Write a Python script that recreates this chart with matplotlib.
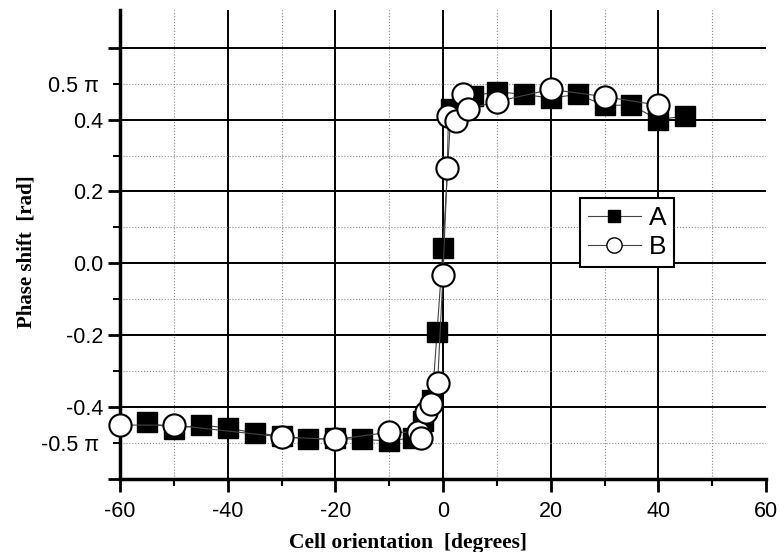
import numpy as np
import matplotlib.pyplot as plt
from matplotlib.lines import Line2D
from matplotlib.ticker import MultipleLocator, FixedLocator, FixedFormatter

# series A (filled squares)
a_x = [-55, -50, -45, -40, -35, -30, -25, -20, -15, -10, -5.5, -3.7, -2, -1.1, 0, 1.5, 5.5, 10, 15, 20, 25, 30, 35, 40, 45]
a_y = [-0.442, -0.46, -0.45, -0.458, -0.472, -0.48, -0.49, -0.487, -0.49, -0.494, -0.485, -0.44, -0.38, -0.19,
       0.042, 0.43, 0.465, 0.478, 0.47, 0.46, 0.47, 0.44, 0.44, 0.40, 0.41]

# series B (open circles)
b_x = [-60, -50, -30, -20, -10, -4.6, -4.1, -3.2, -2.2, -1, 0, 0.8, 1, 2.5, 3.7, 4.6, 10, 20, 30, 40]
b_y = [-0.45, -0.45, -0.483, -0.49, -0.47, -0.47, -0.485, -0.414, -0.392, -0.333, -0.031, 0.264, 0.41,
       0.395, 0.472, 0.43, 0.45, 0.484, 0.464, 0.44]

xticks = [-60, -40, -20, 0, 20, 40, 60]
yticks = [-0.6, -0.4, -0.2, 0.0, 0.2, 0.4, 0.6]
ylabels = ['', '-0.4', '-0.2', '0.0', '0.2', '0.4', '']

plt.rcParams['font.family'] = ['Liberation Sans', 'DejaVu Sans']
plt.rcParams['axes.unicode_minus'] = False

fig = plt.figure(figsize=(7.81, 5.52), dpi=100)
ax = fig.add_axes([120/781, 1-479/552, 646/781, 469/552])

ax.plot(a_x, a_y, color='#444444', lw=0.8, marker='s', ms=15, mfc='black', mec='black', zorder=3, clip_on=False)
ax.plot(b_x, b_y, color='#444444', lw=0.8, marker='o', ms=16, mfc='white', mec='black', mew=1.5, zorder=4,
        clip_on=False)

ax.set_xlim(-60, 60)
ax.set_ylim(-0.6, 0.705)

ax.xaxis.set_major_locator(FixedLocator(xticks))
ax.xaxis.set_minor_locator(MultipleLocator(10))
ax.yaxis.set_major_locator(FixedLocator(yticks))
ax.yaxis.set_major_formatter(FixedFormatter(ylabels))
ax.yaxis.set_minor_locator(FixedLocator([-0.5, -0.3, -0.1, 0.1, 0.3, 0.5]))
ax.yaxis.set_minor_formatter(FixedFormatter(['-0.5 π', '', '', '', '', '0.5 π']))

ax.tick_params(axis='both', which='major', direction='out', length=9, width=2, labelsize=15.5, color='black')
ax.tick_params(axis='both', which='minor', direction='out', length=5, width=1.5, labelsize=15.5)
ax.tick_params(axis='y', which='major', pad=3)
ax.tick_params(axis='y', which='minor', pad=10)
ax.tick_params(axis='x', which='major', pad=7)

ax.grid(True, which='major', color='black', lw=1.4, ls='-')
ax.grid(True, which='minor', color='#888888', lw=0.8, ls=':')
ax.xaxis.get_gridlines()[-1].set_visible(False)
ax.set_axisbelow(True)

for s in ['top', 'right']:
    ax.spines[s].set_visible(False)
ax.spines['left'].set_linewidth(2.5)
ax.spines['bottom'].set_linewidth(2.5)

ax.set_xlabel('Cell orientation  [degrees]', family='Liberation Serif', fontweight='bold', fontsize=15.5)
ax.xaxis.set_label_coords(0.446, -0.115)
ax.set_ylabel('Phase shift  [rad]', family='Liberation Serif', fontweight='bold', fontsize=15)
ax.yaxis.set_label_coords(-0.13, 0.485)

handles = [Line2D([], [], color='#444444', lw=0.8, marker='s', ms=9, mfc='black', mec='black'),
           Line2D([], [], color='#444444', lw=0.8, marker='o', ms=11, mfc='white', mec='black')]
leg = ax.legend(handles, ['A', 'B'], loc='upper left', bbox_to_anchor=(0.712, 0.599), fontsize=19,
                fancybox=False, framealpha=1, edgecolor='black', handlelength=2.0, borderpad=0.3,
                borderaxespad=0, handletextpad=0.3, labelspacing=0.2)
leg.get_frame().set_linewidth(1.5)

fig.savefig('out.png', dpi=100)
